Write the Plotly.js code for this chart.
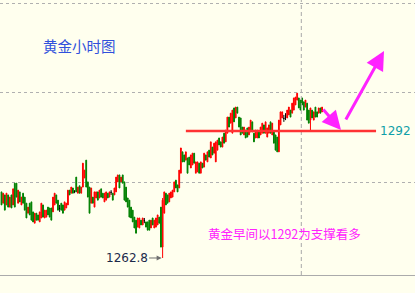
<!DOCTYPE html>
<html><head><meta charset="utf-8">
<script src="https://cdn.plot.ly/plotly-3.0.1.min.js"></script>
<style>html,body{margin:0;padding:0;background:#FFFFEE;}#chart{width:415px;height:293px;}</style>
</head><body><div id="chart"></div>
<script>
// Hourly gold candles, oldest first
const openP = [
1278.0,1275.4,1277.3,1275.0,1277.3,1274.5,1277.3,1275.0,1280.0,1280.0,
1275.4,1278.0,1275.0,1277.7,1276.8,1275.4,1273.1,1275.4,1275.7,1273.4,
1270.8,1273.1,1272.7,1271.1,1272.0,1275.0,1272.0,1272.2,1274.5,1274.3,
1274.3,1273.4,1275.0,1277.3,1276.1,1274.2,1275.4,1275.0,1273.8,1274.3,
1275.0,1278.4,1277.7,1278.9,1278.1,1281.4,1277.7,1279.4,1277.7,1279.1,
1281.2,1285.3,1280.3,1279.1,1275.4,1276.8,1274.5,1276.6,1278.0,1276.6,
1278.7,1277.7,1275.7,1276.1,1277.7,1276.8,1277.9,1277.7,1277.3,1278.0,
1280.3,1281.9,1280.3,1281.9,1280.3,1279.1,1276.6,1276.1,1274.5,1273.8,
1272.2,1271.5,1269.9,1269.7,1271.5,1270.4,1271.4,1271.1,1271.1,1271.5,
1269.7,1272.0,1269.7,1269.9,1270.4,1272.2,1274.5,1265.3,1273.1,1277.7,
1277.3,1275.7,1276.6,1276.8,1278.0,1280.7,1279.6,1278.9,1282.3,1287.2,
1286.5,1285.3,1285.8,1286.0,1283.5,1284.2,1286.9,1282.3,1282.6,1284.6,
1282.3,1284.6,1283.7,1286.5,1284.9,1287.6,1285.8,1288.3,1286.9,1284.9,
1287.6,1290.4,1289.5,1288.3,1291.5,1289.5,1291.5,1295.2,1293.8,1291.5,
1297.3,1295.0,1297.5,1295.2,1295.0,1292.9,1291.1,1292.2,1292.7,1291.1,
1291.8,1294.1,1291.5,1290.4,1290.4,1291.8,1291.1,1291.5,1293.4,1291.5,
1290.6,1291.5,1294.1,1291.1,1291.8,1291.1,1290.6,1287.2,1293.4,1295.0,
1294.9,1295.3,1295.0,1295.7,1296.8,1296.1,1296.8,1298.0,1299.1,1299.6,
1299.1,1299.6,1298.7,1297.5,1298.4,1296.8,1294.5,1296.8,1294.5,1297.5,
1296.4,1296.1,1297.3,1296.4];
const highP = [
1278.0,1277.7,1277.3,1277.7,1277.3,1276.8,1277.3,1278.7,1280.0,1280.0,
1278.4,1278.0,1276.8,1277.7,1276.8,1275.4,1274.5,1275.4,1275.7,1273.4,
1273.1,1273.1,1272.7,1273.4,1275.4,1275.0,1273.8,1273.8,1274.5,1274.3,
1274.3,1276.8,1277.7,1277.3,1276.1,1275.0,1275.4,1275.0,1275.7,1275.4,
1278.4,1278.4,1279.1,1278.9,1278.4,1281.4,1279.1,1279.4,1279.1,1284.6,
1283.0,1285.3,1280.3,1279.1,1278.9,1276.8,1278.0,1278.0,1278.0,1278.4,
1278.7,1277.7,1277.7,1278.0,1277.7,1278.0,1278.4,1277.7,1278.9,1281.4,
1281.9,1281.9,1281.4,1281.9,1280.3,1279.1,1276.6,1276.1,1274.5,1273.8,
1272.2,1271.5,1272.0,1272.0,1271.5,1272.0,1272.0,1271.1,1271.1,1271.5,
1271.5,1272.0,1271.5,1272.0,1272.7,1272.2,1274.5,1276.6,1278.0,1277.7,
1277.3,1277.7,1278.0,1278.4,1280.3,1280.7,1279.6,1283.0,1288.1,1287.2,
1286.5,1287.2,1285.8,1286.0,1286.5,1286.9,1286.9,1284.9,1284.9,1284.6,
1284.9,1284.6,1286.9,1286.5,1287.2,1287.6,1289.5,1288.3,1289.2,1289.5,
1289.9,1290.4,1289.5,1290.6,1291.5,1292.2,1295.2,1295.2,1296.1,1296.8,
1297.3,1297.5,1297.5,1295.2,1295.0,1292.9,1292.9,1292.2,1292.7,1292.9,
1294.5,1294.1,1291.5,1292.2,1292.2,1291.8,1292.9,1293.8,1293.4,1294.1,
1292.7,1293.4,1294.1,1293.8,1291.8,1291.1,1290.6,1294.5,1296.4,1296.4,
1295.7,1296.1,1296.8,1297.5,1296.8,1298.4,1299.6,1299.8,1300.7,1299.6,
1299.1,1299.6,1298.7,1299.1,1298.4,1296.8,1297.3,1296.8,1296.4,1297.5,
1296.4,1297.3,1297.3,1297.5];
const lowP = [
1275.0,1275.4,1273.8,1275.0,1274.5,1274.5,1274.3,1275.0,1274.5,1276.8,
1275.4,1275.7,1275.0,1275.4,1273.8,1272.0,1273.1,1272.7,1271.5,1271.1,
1270.8,1271.5,1271.5,1271.1,1272.0,1272.2,1272.0,1272.2,1272.7,1272.2,
1271.5,1273.4,1275.0,1275.4,1273.8,1273.4,1273.8,1273.1,1273.8,1274.3,
1275.0,1277.3,1277.7,1277.7,1277.7,1278.0,1277.7,1277.7,1277.7,1279.1,
1281.2,1279.1,1276.8,1273.1,1275.4,1275.4,1274.5,1276.6,1276.1,1276.6,
1276.8,1276.6,1275.7,1276.1,1276.6,1276.8,1277.3,1276.1,1277.3,1278.0,
1280.3,1278.9,1280.3,1280.0,1276.1,1275.7,1274.5,1272.2,1272.0,1271.1,
1269.7,1268.5,1269.9,1269.7,1270.4,1270.4,1270.8,1269.9,1269.2,1269.2,
1269.7,1270.4,1269.7,1269.9,1270.4,1270.8,1265.3,1262.8,1273.1,1275.0,
1275.4,1275.7,1276.6,1276.8,1278.0,1278.9,1278.0,1278.9,1282.3,1284.9,
1284.9,1285.3,1282.3,1284.2,1283.5,1284.2,1284.6,1282.3,1282.6,1282.3,
1282.3,1283.5,1283.7,1285.3,1284.9,1286.0,1285.8,1286.5,1286.9,1284.9,
1287.6,1288.8,1288.3,1288.3,1289.2,1289.5,1291.5,1292.9,1293.8,1291.5,
1294.1,1295.0,1296.1,1292.9,1291.1,1291.5,1291.1,1290.4,1290.6,1291.1,
1291.8,1291.8,1289.5,1290.4,1290.4,1290.4,1291.1,1291.5,1291.5,1291.5,
1290.6,1291.5,1291.5,1291.1,1289.2,1287.6,1287.2,1287.2,1293.4,1295.0,
1294.1,1294.5,1295.0,1295.7,1295.2,1296.1,1296.8,1298.0,1299.1,1297.3,
1296.8,1298.0,1296.8,1297.5,1294.5,1293.8,1291.8,1295.0,1294.5,1295.2,
1295.2,1296.1,1296.1,1296.4];
const closeP = [
1275.0,1277.7,1273.8,1277.7,1274.5,1276.8,1274.3,1278.7,1274.5,1276.8,
1278.4,1275.7,1276.8,1275.4,1273.8,1272.0,1274.5,1272.7,1271.5,1271.1,
1273.1,1271.5,1271.5,1273.4,1275.4,1272.2,1273.8,1273.8,1272.7,1272.2,
1271.5,1276.8,1277.7,1275.4,1273.8,1274.2,1273.8,1273.1,1275.7,1275.4,
1278.4,1277.3,1279.1,1277.7,1278.1,1278.0,1279.1,1277.7,1279.1,1284.6,
1283.0,1279.1,1276.8,1273.1,1278.9,1275.4,1278.0,1278.0,1276.1,1278.4,
1276.8,1276.6,1277.7,1278.0,1276.6,1278.0,1277.9,1276.1,1278.9,1281.4,
1281.9,1278.9,1281.4,1280.0,1276.1,1275.7,1274.5,1272.2,1272.0,1271.1,
1269.7,1268.5,1272.0,1272.0,1270.4,1272.0,1271.4,1269.9,1269.2,1269.2,
1271.5,1270.4,1271.5,1272.0,1272.7,1270.8,1265.3,1276.1,1278.0,1275.0,
1275.4,1277.7,1278.0,1278.4,1280.3,1278.9,1278.0,1283.0,1288.1,1284.9,
1284.9,1287.2,1282.3,1284.2,1286.5,1286.9,1284.6,1284.9,1284.9,1282.3,
1284.9,1283.5,1286.9,1285.3,1287.2,1286.0,1289.5,1286.5,1289.2,1289.5,
1289.9,1288.8,1288.3,1290.6,1289.2,1292.2,1295.2,1292.9,1296.1,1296.8,
1294.1,1297.5,1296.1,1292.9,1291.1,1291.5,1292.9,1290.4,1290.6,1292.9,
1294.5,1291.8,1289.5,1292.2,1292.2,1290.4,1292.9,1293.8,1291.5,1294.1,
1292.7,1293.4,1291.5,1293.8,1289.2,1287.6,1287.2,1294.5,1296.4,1296.4,
1294.9,1295.3,1296.8,1297.5,1295.2,1298.4,1299.6,1299.8,1300.7,1297.3,
1296.8,1298.0,1296.8,1299.1,1294.5,1293.8,1297.3,1295.0,1296.4,1295.2,
1295.2,1297.3,1296.1,1297.5];

const gridPrices = [1280.27, 1300.74, 1321.21];   // dotted price grid
const supportLevel = 1292;                        // 黄金早间支撑
const supportFrom = 111, supportTo = 225.5;       // bar index span of the support line
const sessionBreak = 180.5;                       // day separator between bars
const titleText = '黄金小时图';
const noteText = '黄金早间以1292为支撑看多';

const idx = openP.map((_, i) => i);
function pick(pred) {
  const s = {x: [], open: [], high: [], low: [], close: []};
  idx.forEach(i => { if (pred(i)) {
    s.x.push(i); s.open.push(openP[i]); s.high.push(highP[i]);
    s.low.push(lowP[i]); s.close.push(closeP[i]); } });
  return s;
}
function candle(s, col) {
  return Object.assign({type: 'candlestick', hoverinfo: 'skip', showlegend: false, whiskerwidth: 0,
    increasing: {line: {color: col, width: 1}, fillcolor: col},
    decreasing: {line: {color: col, width: 1}, fillcolor: col}}, s);
}
const up = pick(i => closeP[i] > openP[i]);
const down = pick(i => closeP[i] < openP[i]);
const flat = pick(i => closeP[i] === openP[i]);

let lowIdx = 0;
lowP.forEach((v, i) => { if (v < lowP[lowIdx]) lowIdx = i; });

const data = [candle(up, '#FF0000'), candle(down, '#008000'), candle(flat, '#000000')];

const layout = {
  width: 415, height: 293,
  margin: {l: 0, r: 0, t: 0, b: 18},
  paper_bgcolor: '#FFFFEE', plot_bgcolor: '#FFFFEE',
  showlegend: false,
  xaxis: {range: [-0.9, 248.95], showgrid: false, zeroline: false, showticklabels: false,
          ticks: '', showline: true, linecolor: '#ABABAB', linewidth: 1, mirror: false,
          rangeslider: {visible: false}, fixedrange: true},
  yaxis: {range: [1258.89, 1322.12], tickvals: gridPrices, showticklabels: false, ticks: '',
          showgrid: true, gridcolor: '#B0B0B0', gridwidth: 1, griddash: 'dot',
          zeroline: false, showline: false, fixedrange: true},
  shapes: [
    {type: 'line', xref: 'x', yref: 'paper', x0: sessionBreak, x1: sessionBreak, y0: 0, y1: 1,
     line: {color: '#A8A8A8', width: 1, dash: '4px,3px'}},
    {type: 'line', xref: 'x', yref: 'y', x0: supportFrom, x1: supportTo, y0: supportLevel, y1: supportLevel,
     line: {color: '#FF3333', width: 2.5}}
  ],
  annotations: [
    {xref: 'paper', yref: 'paper', x: 0.099, y: 0.836, xanchor: 'left', yanchor: 'middle',
     text: titleText, showarrow: false,
     font: {family: 'Noto Sans CJK SC', size: 14.5, color: '#3050DC'}},
    {xref: 'paper', yref: 'paper', x: 0.4975, y: 0.1527, xanchor: 'left', yanchor: 'middle',
     text: noteText, showarrow: false,
     font: {family: 'Noto Sans CJK SC', size: 12.5, color: '#FF22FF'}},
    {xref: 'paper', yref: 'y', x: 0.911, y: supportLevel, xanchor: 'left', yanchor: 'middle',
     text: String(supportLevel), showarrow: false,
     font: {family: 'DejaVu Sans', size: 12, color: '#10A0A8'}},
    {xref: 'x', yref: 'y', x: lowIdx, y: lowP[lowIdx], text: lowP[lowIdx].toFixed(1),
     showarrow: true, ax: -36, ay: 0, arrowcolor: '#707070', arrowwidth: 1, arrowhead: 2,
     arrowsize: 1, standoff: 1,
     font: {family: 'DejaVu Sans', size: 12, color: '#1C2A4A'}},
    {xref: 'paper', yref: 'paper', x: 0.8217, y: 0.5273, text: '', showarrow: true,
     ax: -19, ay: -22, arrowcolor: '#FF22FF', arrowwidth: 3, arrowhead: 2, arrowsize: 1.25},
    {xref: 'paper', yref: 'paper', x: 0.9253, y: 0.8145, text: '', showarrow: true,
     ax: -39, ay: 70, arrowcolor: '#FF22FF', arrowwidth: 3, arrowhead: 2, arrowsize: 1.25}
  ]
};
Plotly.newPlot('chart', data, layout, {staticPlot: true, displayModeBar: false});
</script></body></html>
